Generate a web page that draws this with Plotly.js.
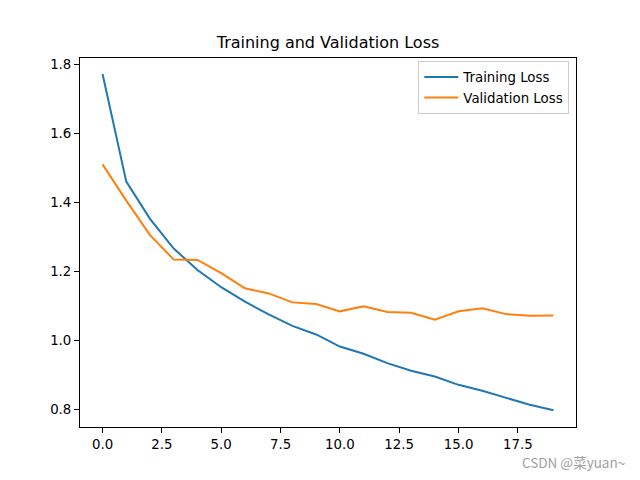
<!DOCTYPE html>
<html>
<head>
<meta charset="utf-8">
<script src="https://cdn.plot.ly/plotly-3.0.1.min.js"></script>
<style>html,body{margin:0;padding:0;background:#fff;}</style>
</head>
<body>
<div id="chart" style="width:640px;height:480px;"></div>
<script>
const epochs = [0,1,2,3,4,5,6,7,8,9,10,11,12,13,14,15,16,17,18,19];
const trainingLoss = [1.772,1.460,1.352,1.266,1.204,1.154,1.112,1.075,1.042,1.017,0.982,0.961,0.934,0.912,0.895,0.871,0.854,0.833,0.813,0.797];
const validationLoss = [1.510,1.405,1.305,1.234,1.233,1.195,1.151,1.136,1.110,1.105,1.084,1.099,1.082,1.080,1.060,1.084,1.093,1.076,1.071,1.072];
const xTicks = [0,2.5,5,7.5,10,12.5,15,17.5];
const yTicks = [0.8,1.0,1.2,1.4,1.6,1.8];

const font = "DejaVu Sans, sans-serif";
const traces = [
  {x: epochs, y: trainingLoss, type: 'scatter', mode: 'lines', name: 'Training Loss',
   line: {color: '#1f77b4', width: 2}},
  {x: epochs, y: validationLoss, type: 'scatter', mode: 'lines', name: 'Validation Loss',
   line: {color: '#ff7f0e', width: 2}}
];
const axisCommon = {
  showgrid: false, zeroline: false, showline: true, mirror: true,
  linecolor: '#000', linewidth: 1, ticks: 'outside', ticklen: 5, tickwidth: 1,
  tickcolor: '#000', tickfont: {family: font, size: 13.33, color: '#000'}, tickformat: '.1f'
};
const layout = {
  width: 640, height: 480,
  margin: {l: 80, r: 64, t: 58, b: 53, pad: 0},
  paper_bgcolor: '#fff', plot_bgcolor: '#fff',
  font: {family: font, color: '#000'},
  title: {text: 'Training and Validation Loss', font: {family: font, size: 16, color: '#000'},
          x: 0.5125, xanchor: 'center', y: 0.912, yanchor: 'middle'},
  xaxis: Object.assign({}, axisCommon, {range: [-0.95, 19.95], tickvals: xTicks}),
  yaxis: Object.assign({}, axisCommon, {range: [0.7487, 1.8185], tickvals: yTicks}),
  showlegend: true,
  legend: {x: 0.9865, xanchor: 'right', y: 0.992, yanchor: 'top', bgcolor: 'rgba(255,255,255,0.8)',
           bordercolor: '#cccccc', borderwidth: 1, font: {family: font, size: 13.33, color: '#000'},
           tracegroupgap: 0, itemwidth: 34},
  annotations: [{text: 'CSDN @菜yuan~', xref: 'paper', yref: 'paper', x: 1.103, xanchor: 'right',
                 y: -0.095, yanchor: 'middle', showarrow: false,
                 font: {family: "'Noto Sans CJK SC', sans-serif", size: 13.5, color: '#a0a0a0'}}]
};
Plotly.newPlot('chart', traces, layout, {staticPlot: true, displayModeBar: false});
</script>
</body>
</html>
